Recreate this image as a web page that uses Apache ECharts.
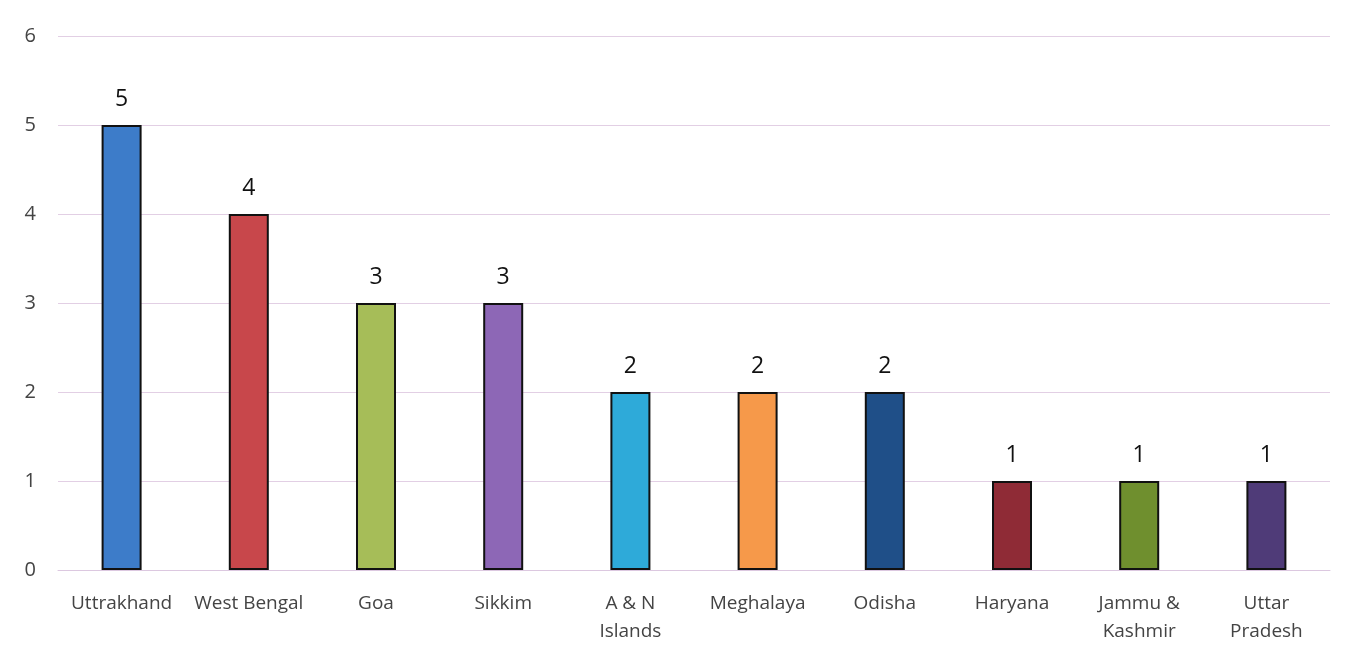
<!DOCTYPE html>
<html><head><meta charset="utf-8">
<script src="https://cdn.jsdelivr.net/npm/echarts@6/dist/echarts.min.js"></script>
<style>html,body{margin:0;padding:0;background:#fff;}#c{width:1361px;height:661px;}</style>
</head><body><div id="c"></div>
<script>
const categories = ["Uttrakhand","West Bengal","Goa","Sikkim","A & N\nIslands","Meghalaya","Odisha","Haryana","Jammu &\nKashmir","Uttar\nPradesh"];
const values = [5,4,3,3,2,2,2,1,1,1];
const colors = ["#3d7cc9","#c8474b","#a6bd58","#8d67b6","#2eaad9","#f6994a","#1f4f88","#8f2b36","#6f8f2e","#4f3b78"];
const yTicks = [0,1,2,3,4,5,6];

const chart = echarts.init(document.getElementById('c'));
chart.setOption({
  animation:false,
  grid:{left:58,right:31,top:36,bottom:91},
  xAxis:{type:'category',data:categories,
    axisLine:{show:true,lineStyle:{color:'#dcc8e0',width:1}},
    axisTick:{show:false},
    axisLabel:{color:'#444',fontSize:19,fontFamily:'Open Sans',lineHeight:28,margin:20,interval:0}},
  yAxis:{type:'value',min:yTicks[0],max:yTicks[yTicks.length-1],interval:1,
    axisLine:{show:false},axisTick:{show:false},
    axisLabel:{color:'#444',fontSize:20,fontFamily:'Open Sans',margin:22},
    splitLine:{lineStyle:{color:'#e2cfe4',width:1}}},
  series:[{type:'bar',barWidth:40,
    data:values.map((v,i)=>({value:v,itemStyle:{color:colors[i]}})),
    itemStyle:{borderColor:'#111',borderWidth:2},
    label:{show:true,position:'top',distance:14,color:'#111',fontSize:23,fontFamily:'Open Sans'}}]
});
</script></body></html>
